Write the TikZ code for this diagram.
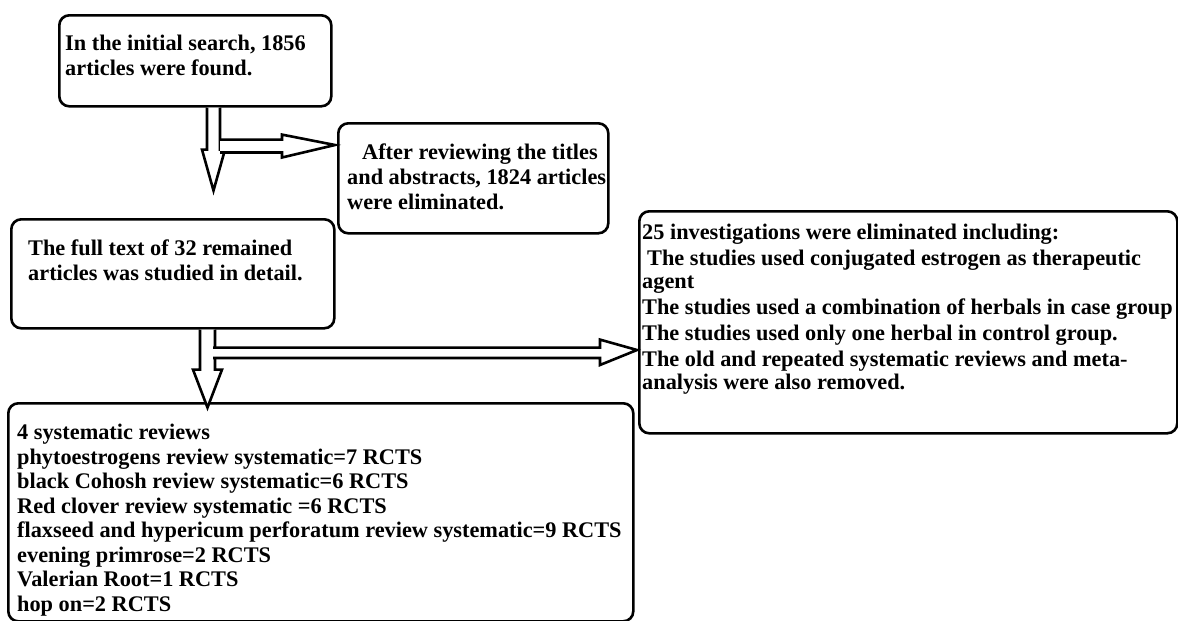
\documentclass[tikz,border=0pt]{standalone}
\usepackage{fontspec}
\setmainfont{Liberation Serif}
\usetikzlibrary{positioning, calc}

\begin{document}
\begin{tikzpicture}[
  x=1pt, y=-1pt,
  every node/.style={font=\fontsize{22.3}{25}\selectfont\bfseries},
  box/.style    = {draw, line width=2.6pt, rounded corners=10pt, anchor=north west, inner sep=0pt},
  txt/.style    = {anchor=north west, align=left, inner sep=0pt},
  blkarr/.style = {draw, line width=2.6pt, line join=miter, fill=white},
]
  \useasboundingbox (0,0) rectangle (1178,621);
  % boxes
  \node[box, minimum width=272pt, minimum height=91pt]  (search)   at (58,14)  {};
  \node[box, minimum width=270pt, minimum height=110pt] (screen)   at (337,122) {};
  \node[box, minimum width=323pt, minimum height=109pt] (fulltext) at (10,218) {};
  \node[box, minimum width=625pt, minimum height=218pt] (included) at (7,402)  {};
  \node[box, minimum width=538pt, minimum height=222pt] (excluded) at (638,210) {};
  % texts
  \node[txt] (searchtxt) at ($(search.north west)+(7,21)$)
    {In the initial search, 1856\\articles were found.};
  \node[txt] (screentxt) at ($(screen.north west)+(10,22)$)
    {\hspace{15pt}After reviewing the titles\\and abstracts, 1824 articles\\were eliminated.};
  \node[txt] (fulltexttxt) at ($(fulltext.north west)+(18,22)$)
    {The full text of 32 remained\\articles was studied in detail.};
  \node[txt, font=\fontsize{22.3}{24.5}\selectfont\bfseries] (includedtxt) at ($(included.north west)+(10,22)$)
    {4 systematic reviews\\
     phytoestrogens review systematic=7 RCTS\\
     black Cohosh review systematic=6 RCTS\\
     Red clover review systematic =6 RCTS\\
     flaxseed and hypericum perforatum review systematic=9 RCTS\\
     evening primrose=2 RCTS\\
     Valerian Root=1 RCTS\\
     hop on=2 RCTS};
  \node[txt, font=\fontsize{22.3}{23}\selectfont\bfseries] (excludedtxt) at ($(excluded.north west)+(4,14)$)
    {25 investigations were eliminated including:\\[3pt]
     \hspace{5pt}The studies used conjugated estrogen as therapeutic\\
     agent\\[3pt]
     The studies used a combination of herbals in case group\\[3pt]
     The studies used only one herbal in control group.\\[3pt]
     The old and repeated systematic reviews and meta-\\
     analysis were also removed.};
  % block arrows
  \draw[blkarr] ($(search.south west)+(149,0)$) -- ++(0,42) -- ++(-5,0) -- ++(11.5,41)
    -- ++(11.5,-41) -- ++(-5,0) -- ++(0,-42);
  \draw[blkarr] ($(search.south west)+(162,32)$) -- ++(62,0) -- ++(0,-5)
    -- ($(screen.north west)+(-2,23)$) -- ++(-53,12.5) -- ++(0,-5) -- ++(-62,0);
  \draw[blkarr] ($(fulltext.south west)+(190,0)$) -- ++(0,40) -- ++(-7,0) -- ++(14.5,38)
    -- ++(14.5,-38) -- ++(-7,0) -- ++(0,-40);
  \draw[blkarr] ($(fulltext.south west)+(203,18)$) -- ++(387,0) -- ++(0,-8)
    -- ($(excluded.north west)+(-1,140)$) -- ++(-37,15) -- ++(0,-7) -- ++(-387,0);
\end{tikzpicture}
\end{document}
